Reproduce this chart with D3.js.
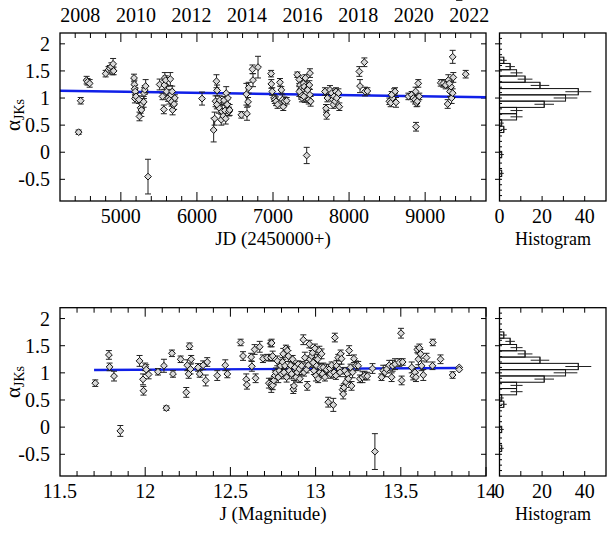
<!DOCTYPE html>
<html><head><meta charset="utf-8">
<script src="https://cdn.jsdelivr.net/npm/d3@7"></script>
<style>
body{margin:0;background:#fff}
svg{display:block}
</style>
</head><body>
<svg id="c" width="614" height="536" font-family="'Liberation Serif', 'DejaVu Serif', 'Times New Roman', serif"></svg>
<script>
// ---------------- data ----------------
const topJD = [4445,4472,4550,4562,4590,4800,4838,4855,4875,4888,4898,4905,
 5173,5178,5182,5190,5185,5200,5238,5245,5260,5270,5278,5300,5304,5315,5326,5357,
 5510,5548,5565,5572,5578,5590,5600,5620,5640,5650,5660,5668,5675,5680,5690,5700,5710,
 6067,6220,6233,6245,6257,6265,6275,6290,6300,6320,6330,6345,6355,6368,6378,6385,6398,6408,6420,6430,6262,
 6584,6650,6658,6672,6680,6730,6737,6803,
 6975,6978,6990,7013,7025,7040,7060,7092,7110,7125,7135,7150,7180,
 7320,7345,7355,7362,7375,7385,7392,7400,7410,7418,7425,7435,7443,7450,7460,7470,7478,7486,7495,7380,7370,7405,7455,7346,7485,
 7683,7697,7705,7715,7749,7771,7785,7793,7802,7815,7828,7860,7872,7837,
 8135,8144,8201,8210,8240,
 8530,8547,8573,8591,8604,8617,8560,
 8780,8823,8845,8867,8880,8888,8897,8910,8923,8875,
 9205,9240,9270,9296,9305,9327,9348,9362,9370,9362,9340,9318,
 9533];
const topAlpha = [0.37,0.95,1.33,1.30,1.27,1.45,1.52,1.55,1.58,1.49,1.63,1.50,
 1.37,1.25,1.17,1.12,0.99,1.03,0.97,0.66,0.82,0.78,0.89,0.93,1.09,1.15,1.22,-0.45,
 1.25,1.03,0.79,1.24,1.37,1.33,1.12,1.00,0.97,1.35,1.06,0.93,1.12,0.78,0.87,0.89,1.00,
 0.99,0.41,0.62,0.94,1.31,1.14,0.90,0.82,0.96,0.60,0.75,0.67,0.96,0.77,0.62,1.09,0.88,1.00,0.75,0.78,0.88,
 0.69,1.07,0.71,0.93,1.19,1.53,1.33,1.57,
 1.45,1.26,1.12,1.00,0.97,0.94,0.88,1.29,1.15,0.97,0.84,0.94,0.95,
 1.43,1.34,1.24,1.15,1.18,1.12,1.06,1.27,1.21,1.00,1.37,1.09,-0.06,1.00,1.18,0.97,1.24,1.46,0.94,1.00,1.06,1.03,1.15,1.12,1.06,
 1.12,0.81,0.69,1.00,1.15,1.09,0.97,0.88,1.03,0.94,1.12,1.09,0.84,1.00,
 1.49,1.22,1.66,1.12,1.13,
 0.94,0.91,1.00,1.09,1.12,0.92,1.06,
 1.03,1.06,1.00,0.97,0.47,0.91,0.94,1.27,1.03,1.12,
 1.28,1.27,1.24,0.89,1.33,1.12,1.00,1.76,1.38,1.09,1.21,1.27,
 1.44];
const topErr = [0.04,0.06,0.07,0.06,0.07,0.06,0.06,0.05,0.07,0.06,0.10,0.07,
 0.07,0.08,0.06,0.07,0.08,0.06,0.07,0.08,0.10,0.12,0.08,0.10,0.10,0.08,0.12,0.32,
 0.10,0.06,0.08,0.08,0.10,0.08,0.09,0.06,0.08,0.12,0.10,0.08,0.10,0.09,0.08,0.10,0.06,
 0.12,0.22,0.12,0.10,0.12,0.10,0.08,0.10,0.08,0.10,0.12,0.08,0.07,0.10,0.10,0.12,0.09,0.10,0.08,0.10,0.08,
 0.06,0.20,0.12,0.08,0.10,0.08,0.12,0.20,
 0.06,0.08,0.07,0.06,0.07,0.08,0.07,0.07,0.06,0.09,0.07,0.08,0.06,
 0.05,0.07,0.08,0.10,0.08,0.07,0.06,0.08,0.10,0.08,0.06,0.09,0.15,0.07,0.10,0.08,0.08,0.08,0.09,0.07,0.08,0.06,0.07,0.09,0.10,
 0.07,0.07,0.08,0.07,0.08,0.08,0.09,0.07,0.08,0.10,0.07,0.08,0.07,0.06,
 0.09,0.12,0.08,0.08,0.06,
 0.06,0.07,0.09,0.08,0.07,0.09,0.06,
 0.06,0.06,0.07,0.08,0.08,0.07,0.09,0.07,0.06,0.08,
 0.06,0.07,0.07,0.08,0.10,0.09,0.10,0.12,0.09,0.08,0.10,0.08,
 0.07];

const botJ = [11.707,11.787,11.791,11.817,11.854,11.967,11.987,11.990,12.000,12.006,12.020,
 12.075,12.110,12.124,12.157,12.163,12.208,12.241,12.247,12.260,12.255,12.270,12.266,
 12.310,12.320,12.340,12.355,12.364,12.423,12.470,12.482,
 12.560,12.574,12.593,12.597,12.622,12.626,12.648,12.642,12.672,12.691,12.716,12.726,12.736,12.740,12.738,
 12.742,12.748,12.742,12.748,12.755,12.761,12.767,12.775,12.781,12.787,12.795,12.801,12.806,12.810,12.814,12.820,12.826,12.830,12.834,12.840,12.845,12.853,12.859,12.865,12.869,12.873,12.879,12.885,12.892,12.898,12.904,12.908,12.918,12.928,12.932,12.937,12.947,12.951,12.957,12.963,12.967,12.977,12.982,12.986,12.990,12.996,13.002,13.006,13.012,13.015,13.022,13.025,13.029,13.035,13.041,13.045,13.055,13.064,13.074,13.084,13.088,13.094,13.104,13.108,13.113,13.119,13.123,13.133,13.139,13.143,13.147,13.152,13.158,13.162,13.166,13.172,13.178,13.186,13.192,13.197,13.205,13.211,13.217,13.225,13.236,13.250,13.260,13.275,13.287,13.303,13.334,13.348,13.387,13.397,13.407,13.417,13.432,13.446,13.452,13.466,13.491,13.501,13.505,13.511,13.564,13.573,13.583,13.589,13.597,13.603,13.609,13.616,13.622,13.632,13.651,13.686,13.688,13.733,13.804,13.843,13.843];
const botAlpha = [0.81,1.33,1.11,0.94,-0.07,1.22,0.88,0.67,1.11,1.06,0.97,
 1.02,1.13,0.35,1.36,0.98,1.25,0.64,1.14,1.49,0.98,1.25,1.07,
 1.10,0.98,1.14,0.86,1.20,0.95,1.14,0.98,
 1.56,1.31,0.88,0.78,1.29,1.12,0.90,1.43,1.48,1.26,1.28,0.81,1.54,0.76,1.28,
 1.55,1.31,0.80,0.77,0.86,0.95,1.01,1.22,0.92,1.04,1.13,0.98,1.20,1.35,1.01,1.13,1.45,0.92,1.41,1.31,1.04,1.14,0.98,1.25,0.70,0.76,1.10,0.92,1.01,1.16,1.07,0.89,1.13,1.61,1.01,1.28,1.06,0.76,1.14,1.53,1.25,1.31,1.37,1.19,1.04,1.45,0.95,1.13,1.25,0.89,1.41,1.01,1.10,1.35,0.98,1.10,0.92,1.06,0.46,1.08,0.98,1.14,0.41,1.01,1.65,0.95,1.13,1.28,1.07,1.01,1.35,1.26,0.69,0.61,0.73,1.04,0.83,0.98,0.89,1.41,1.10,0.76,1.01,1.26,1.13,1.13,0.89,0.92,0.95,0.94,1.08,-0.45,0.92,1.04,1.01,1.07,1.14,0.92,1.13,1.16,1.19,1.73,0.86,1.20,1.10,0.94,1.01,0.92,1.43,1.25,1.46,1.35,1.13,0.96,1.28,1.13,1.56,1.25,0.96,1.10,1.06,0.62];
const botErr = [0.06,0.08,0.07,0.09,0.10,0.10,0.10,0.08,0.07,0.09,0.08,
 0.06,0.12,0.04,0.06,0.06,0.06,0.09,0.10,0.06,0.08,0.07,0.09,
 0.07,0.06,0.08,0.10,0.08,0.09,0.10,0.07,
 0.06,0.08,0.10,0.08,0.07,0.09,0.08,0.09,0.10,0.07,0.06,0.09,0.06,0.12,0.06,
 0.07,0.09,0.10,0.08,0.07,0.09,0.08,0.09,0.10,0.07,0.06,0.09,0.08,0.10,0.07,0.08,0.06,0.09,0.07,0.10,0.08,0.06,0.09,0.07,0.08,0.10,0.07,0.09,0.08,0.06,0.10,0.07,0.08,0.09,0.07,0.10,0.06,0.08,0.09,0.07,0.06,0.10,0.08,0.09,0.07,0.08,0.10,0.06,0.09,0.07,0.08,0.10,0.07,0.09,0.06,0.08,0.07,0.10,0.09,0.07,0.08,0.06,0.12,0.09,0.08,0.07,0.10,0.06,0.09,0.08,0.07,0.10,0.08,0.09,0.07,0.06,0.10,0.08,0.07,0.09,0.06,0.08,0.10,0.07,0.09,0.08,0.07,0.10,0.08,0.07,0.09,0.33,0.06,0.10,0.08,0.07,0.09,0.08,0.10,0.10,0.07,0.09,0.08,0.06,0.10,0.07,0.09,0.08,0.06,0.10,0.07,0.08,0.09,0.10,0.08,0.07,0.06,0.08,0.06];

// histogram of alpha (same for both panels): counts per bin, lowest bin first
const histStart = -0.448, histWidth = 0.1159;
const histCounts = [1,0,0,1,0,0,0,2,1,8,8,21,31,37,19,12,8,5,2];

const jdMajor = [5000,6000,7000,8000,9000];
const jMajor = [11.5,12,12.5,13,13.5,14];
const alphaTicks = [-0.5,0,0.5,1,1.5,2];
const histTickLabels = [0,20,40];
const histTicksAll = [10,20,30,40];
const yearLabels = [2008,2010,2012,2014,2016,2018,2020,2022];
const fitTopX = [4200,9800], fitTopY = [1.135,1.015];
const fitBotX = [11.7,13.85], fitBotY = [1.053,1.09];

// ---------------- drawing ----------------
const FONT = "'Liberation Serif', 'DejaVu Serif', 'Times New Roman', serif";
const svg = d3.select("#c");
const BLUE = "#1020e8";

function yearToJD(y){ return Date.UTC(y,0,1)/86400000 + 2440587.5 - 2450000; }

function txt(sel){ return sel.attr("font-family",FONT).attr("fill","#000"); }

function panel(cfg){
  const g = svg.append("g");
  const x = d3.scaleLinear().domain(cfg.xDomain).range([60,486]);
  const y = d3.scaleLinear().domain([-0.9,2.2]).range([cfg.bottom,cfg.top]);
  const hx = d3.scaleLinear().domain([0,50]).range([499.5,606]);

  const tg = g.append("g").attr("stroke","#000").attr("stroke-width",1);
  cfg.minor.forEach(t=>{
    const major = cfg.major.some(m=>Math.abs(m-t)<1e-6);
    const L = major ? 9 : 5;
    const px = x(t);
    tg.append("line").attr("x1",px).attr("x2",px).attr("y1",cfg.bottom).attr("y2",cfg.bottom-L);
    tg.append("line").attr("x1",px).attr("x2",px).attr("y1",cfg.top).attr("y2",cfg.top+L);
  });
  alphaTicks.forEach(t=>{
    const py = y(t);
    tg.append("line").attr("x1",60).attr("x2",65).attr("y1",py).attr("y2",py);
    tg.append("line").attr("x1",486).attr("x2",481).attr("y1",py).attr("y2",py);
    tg.append("line").attr("x1",495).attr("x2",499.5).attr("y1",py).attr("y2",py);
  });
  d3.range(-8,22).forEach(k=>{
    const py = y(k/10);
    tg.append("line").attr("x1",499.5).attr("x2",502).attr("y1",py).attr("y2",py);
  });
  histTicksAll.forEach(t=>{
    const px = hx(t);
    tg.append("line").attr("x1",px).attr("x2",px).attr("y1",cfg.bottom).attr("y2",cfg.bottom-5);
    tg.append("line").attr("x1",px).attr("x2",px).attr("y1",cfg.top).attr("y2",cfg.top+5);
  });

  g.append("line").attr("x1",x(cfg.fitX[0])).attr("x2",x(cfg.fitX[1]))
    .attr("y1",y(cfg.fitY[0])).attr("y2",y(cfg.fitY[1]))
    .attr("stroke",BLUE).attr("stroke-width",2.4);

  const pts = cfg.xs.map((v,i)=>({x:v, a:cfg.as[i], e:cfg.es[i]}));
  const eg = g.append("g").attr("stroke","#222").attr("stroke-width",1);
  pts.forEach(p=>{
    const px = x(p.x), y1 = y(p.a-p.e), y2 = y(p.a+p.e);
    eg.append("line").attr("x1",px).attr("x2",px).attr("y1",y1).attr("y2",y2);
    eg.append("line").attr("x1",px-3).attr("x2",px+3).attr("y1",y1).attr("y2",y1);
    eg.append("line").attr("x1",px-3).attr("x2",px+3).attr("y1",y2).attr("y2",y2);
  });
  const s = 3.4;
  g.append("g").selectAll("path").data(pts).join("path")
    .attr("d",p=>{const px=x(p.x), py=y(p.a); return `M${px},${py-s}L${px+s},${py}L${px},${py+s}L${px-s},${py}Z`;})
    .attr("fill","#d8d8d8").attr("stroke","#111").attr("stroke-width",1);

  const hg = g.append("g");
  histCounts.forEach((c,k)=>{
    if(c<=0) return;
    const lo = histStart + k*histWidth, hi = lo + histWidth;
    const yTop = y(hi), yBot = y(lo);
    hg.append("rect").attr("x",hx(0)).attr("y",yTop).attr("width",hx(c)-hx(0)).attr("height",yBot-yTop)
      .attr("fill","none").attr("stroke","#111").attr("stroke-width",1);
    const ym = (yTop+yBot)/2, sd = Math.sqrt(c);
    hg.append("line").attr("x1",hx(Math.max(0,c-sd))).attr("x2",hx(c+sd)).attr("y1",ym).attr("y2",ym)
      .attr("stroke","#222").attr("stroke-width",1);
    hg.append("line").attr("x1",hx(c)).attr("x2",hx(c)).attr("y1",ym-3).attr("y2",ym+3)
      .attr("stroke","#222").attr("stroke-width",1);
  });

  g.append("rect").attr("x",60).attr("y",cfg.top).attr("width",426).attr("height",cfg.bottom-cfg.top)
    .attr("fill","none").attr("stroke","#000").attr("stroke-width",1.3);
  g.append("rect").attr("x",499.5).attr("y",cfg.top).attr("width",106.5).attr("height",cfg.bottom-cfg.top)
    .attr("fill","none").attr("stroke","#000").attr("stroke-width",1.3);

  const lab = g.append("g").attr("font-size",20);
  cfg.major.forEach(t=>{
    txt(lab.append("text")).attr("x",x(t)).attr("y",cfg.bottom+22).attr("text-anchor","middle").text(cfg.fmt(t));
  });
  alphaTicks.forEach(t=>{
    txt(lab.append("text")).attr("x",50).attr("y",y(t)+7).attr("text-anchor","end").text(String(t));
  });
  histTickLabels.forEach(t=>{
    txt(lab.append("text")).attr("x",hx(t)).attr("y",cfg.bottom+22).attr("text-anchor","middle").text(String(t));
  });
  txt(g.append("text")).attr("x",273).attr("y",cfg.bottom+44).attr("text-anchor","middle").attr("font-size",19).text(cfg.xTitle);
  txt(g.append("text")).attr("x",553).attr("y",cfg.bottom+44).attr("text-anchor","middle").attr("font-size",18).text("Histogram");
  const yt = txt(g.append("text")).attr("transform",`translate(20,${cfg.yTitleY}) rotate(-90)`).attr("text-anchor","middle");
  yt.append("tspan").attr("font-size",21).text("α");
  yt.append("tspan").attr("font-size",14).attr("dy",4).text("JKs");
  return {x,y};
}

const P1 = panel({xDomain:[4200,9800], top:33, bottom:201,
  major:jdMajor, minor:d3.range(4400,9800,200), fmt:d=>String(d),
  xs:topJD, as:topAlpha, es:topErr, fitX:fitTopX, fitY:fitTopY,
  xTitle:"JD (2450000+)", yTitleY:115});

yearLabels.forEach(yr=>{
  txt(svg.append("text")).attr("x",P1.x(yearToJD(yr))).attr("y",22).attr("text-anchor","middle")
    .attr("font-size",20).text(String(yr));
});

panel({xDomain:[11.5,14], top:307.7, bottom:476,
  major:jMajor, minor:d3.range(11.6,14.0,0.1).map(v=>Math.round(v*10)/10), fmt:d=>String(d),
  xs:botJ, as:botAlpha, es:botErr, fitX:fitBotX, fitY:fitBotY,
  xTitle:"J (Magnitude)", yTitleY:382});
</script>
</body></html>
